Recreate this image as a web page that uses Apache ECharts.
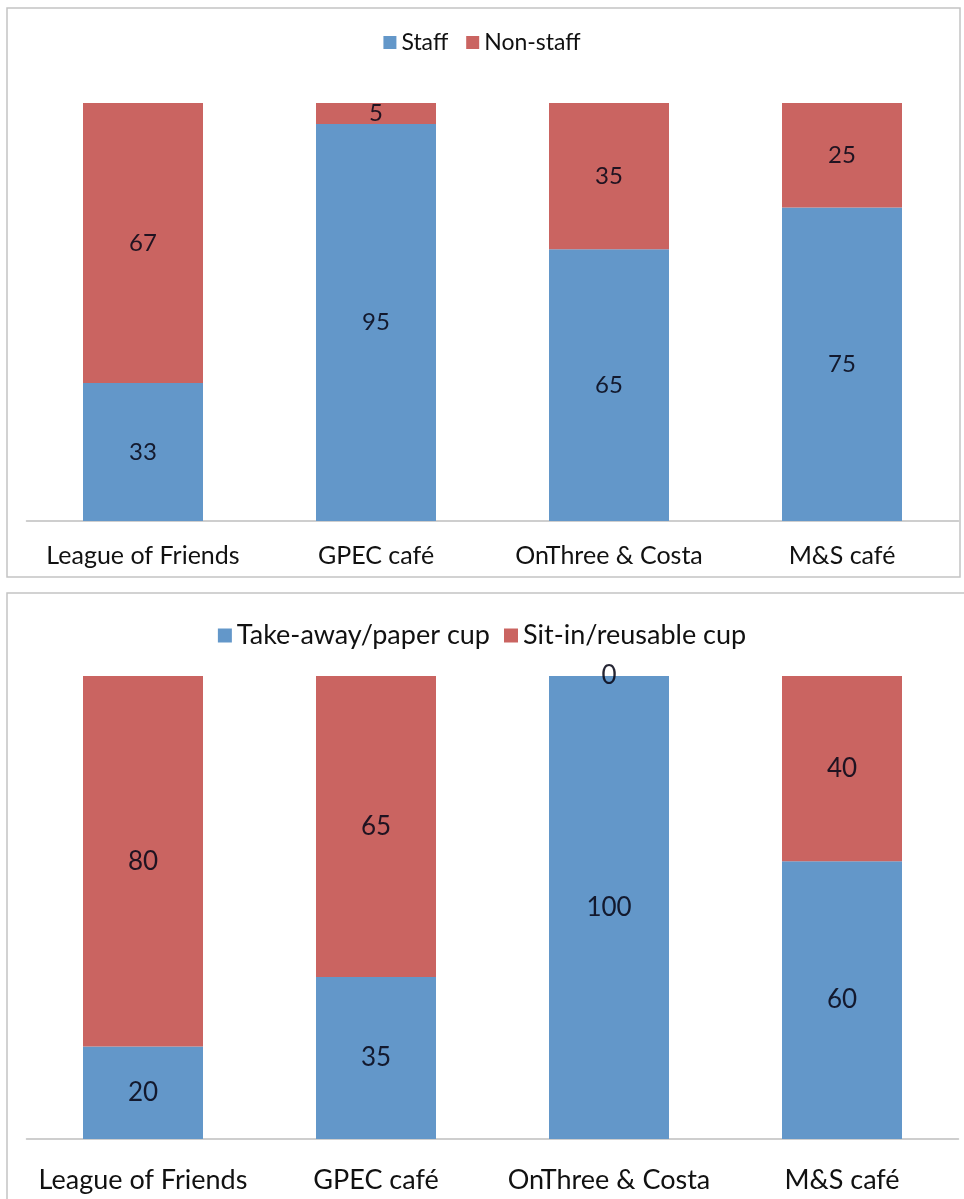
<!DOCTYPE html>
<html>
<head>
<meta charset="utf-8">
<script src="https://cdn.jsdelivr.net/npm/echarts@6/dist/echarts.min.js"></script>
<style>
  html, body { margin: 0; padding: 0; background: #fff; }
  #chart { width: 964px; height: 1199px; }
</style>
</head>
<body>
<div id="chart"></div>
<script>
// Venue names shared by both panels
const venues = ['League of Friends', 'GPEC café', 'OnThree & Costa', 'M&S café'];

// Panel 1: customer type (%)
const staff = [33, 95, 65, 75];
const nonStaff = [67, 5, 35, 25];

// Panel 2: cup type (%)
const takeAway = [20, 35, 100, 60];
const sitIn = [80, 65, 0, 40];

const BLUE = '#6397C9';
const RED = '#CA6461';
const FONT = 'Lato, "Open Sans", sans-serif';
const LABEL_COLOR = 'rgba(8,8,24,0.88)';

const chart = echarts.init(document.getElementById('chart'), null, { renderer: 'canvas' });

function barSeries(name, data, color, axisIdx, fontSize) {
  return {
    name: name,
    type: 'bar',
    stack: 'panel' + axisIdx,
    xAxisIndex: axisIdx,
    yAxisIndex: axisIdx,
    data: data,
    barWidth: 120,
    itemStyle: { color: color },
    label: {
      show: true,
      position: 'inside',
      color: LABEL_COLOR,
      fontFamily: FONT,
      fontSize: fontSize
    },
    emphasis: { disabled: true }
  };
}

function catAxis(gridIndex, fontSize, margin) {
  return {
    type: 'category',
    gridIndex: gridIndex,
    data: venues,
    axisLine: { lineStyle: { color: '#BEBEBE', width: 1.5 } },
    axisTick: { show: false },
    axisLabel: {
      interval: 0,
      hideOverlap: false,
      color: '#111',
      fontFamily: FONT,
      fontSize: fontSize,
      margin: margin
    }
  };
}

function valAxis(gridIndex) {
  return {
    type: 'value',
    gridIndex: gridIndex,
    min: 0,
    max: 100,
    show: false,
    splitLine: { show: false }
  };
}

chart.setOption({
  animation: false,
  graphic: [
    {
      type: 'rect',
      shape: { x: 7, y: 8, width: 953, height: 569 },
      style: { fill: 'none', stroke: '#C4C4C4', lineWidth: 1.5 },
      z: -1
    },
    {
      type: 'rect',
      shape: { x: 7, y: 593, width: 980, height: 640 },
      style: { fill: 'none', stroke: '#C4C4C4', lineWidth: 1.5 },
      z: -1
    }
  ],
  legend: [
    {
      data: ['Staff', 'Non-staff'],
      top: 26,
      left: 'center',
      icon: 'rect',
      itemWidth: 13,
      itemHeight: 13,
      itemGap: 18,
      textStyle: { fontFamily: FONT, fontSize: 23, color: '#111' }
    },
    {
      data: ['Take-away/paper cup', 'Sit-in/reusable cup'],
      top: 617,
      left: 'center',
      icon: 'rect',
      itemWidth: 14,
      itemHeight: 14,
      itemGap: 14,
      textStyle: { fontFamily: FONT, fontSize: 27, color: '#111' }
    }
  ],
  grid: [
    { left: 26.5, width: 932, top: 103, height: 418 },
    { left: 26.5, width: 932, top: 676, height: 463 }
  ],
  xAxis: [catAxis(0, 25, 22), catAxis(1, 27, 28)],
  yAxis: [valAxis(0), valAxis(1)],
  series: [
    barSeries('Staff', staff, BLUE, 0, 24),
    barSeries('Non-staff', nonStaff, RED, 0, 24),
    barSeries('Take-away/paper cup', takeAway, BLUE, 1, 26),
    barSeries('Sit-in/reusable cup', sitIn, RED, 1, 26)
  ]
});
</script>
</body>
</html>
